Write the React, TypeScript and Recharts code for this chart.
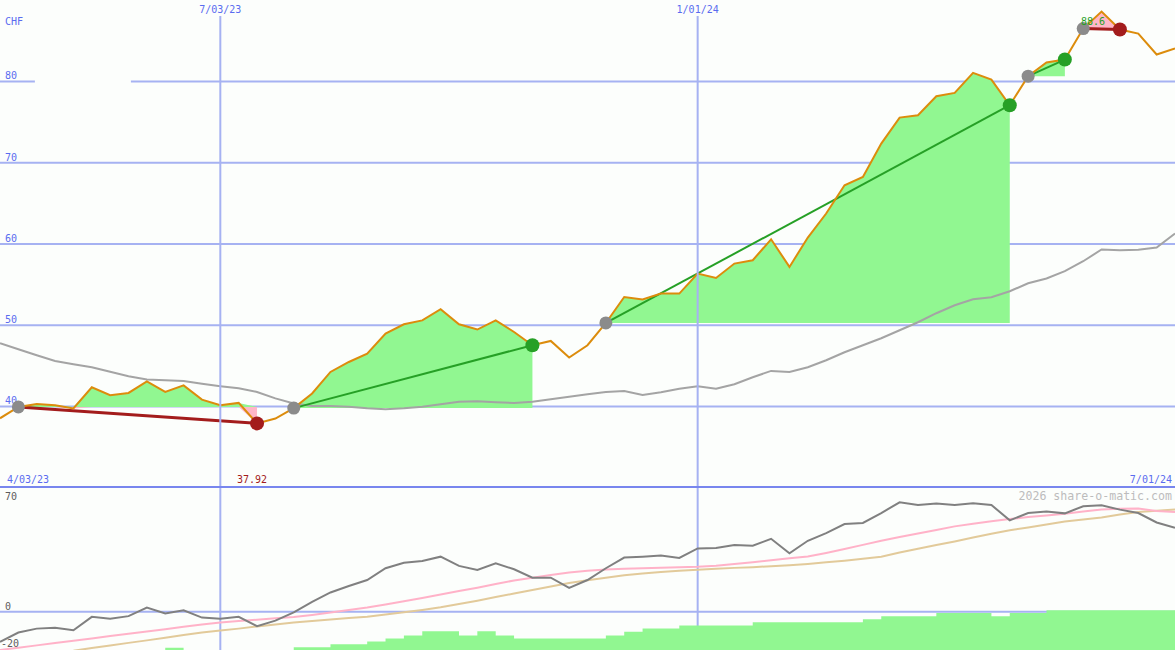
import React from 'react';
import {
  ComposedChart,
  Line,
  Area,
  XAxis,
  YAxis,
  ReferenceLine,
  ReferenceDot,
} from 'recharts';

// ---------- data (weekly, index 0 = 4/10/23 ... 64 = 7/01/24) ----------
const currency = 'CHF';
const rangeStartLabel = '4/03/23';
const rangeEndLabel = '7/01/24';
const watermark = '2026 share-o-matic.com';
const dateTicks = [
  { k: 12, label: '7/03/23' },
  { k: 38, label: '1/01/24' },
];
const priceTicks = [40, 50, 60, 70, 80];
const oscLabels = [70, 0, -20];

const price = [
  38.55, 39.95, 40.3, 40.15, 39.75, 42.37, 41.38, 41.67, 43.1, 41.8,
  42.6, 40.85, 40.15, 40.44, 37.92, 38.52, 39.8, 41.6, 44.25, 45.48,
  46.5, 48.97, 50.12, 50.6, 51.97, 50.12, 49.47, 50.6, 49.17, 47.54,
  48.07, 46.02, 47.54, 50.28, 53.48, 53.16, 53.9, 53.9, 56.36, 55.82,
  57.59, 58.0, 60.58, 57.18, 60.79, 63.75, 67.23, 68.25, 72.36, 75.56,
  75.85, 78.18, 78.6, 81.06, 80.24, 77.08, 80.65, 82.33, 82.7, 86.51,
  88.6, 86.4, 85.9, 83.32, 84.06,
];

const movingAvg = [
  47.78, 47.05, 46.3, 45.6, 45.2, 44.83, 44.28, 43.72, 43.32, 43.23,
  43.15, 42.8, 42.5, 42.25, 41.79, 41.0, 40.36, 40.07, 40.07, 39.97,
  39.78, 39.66, 39.78, 39.97, 40.28, 40.58, 40.65, 40.52, 40.44, 40.58,
  40.9, 41.2, 41.5, 41.79, 41.91, 41.42, 41.75, 42.18, 42.5, 42.18,
  42.74, 43.6, 44.38, 44.25, 44.83, 45.69, 46.68, 47.54, 48.4, 49.38,
  50.37, 51.48, 52.46, 53.2, 53.45, 54.18, 55.17, 55.75, 56.65, 57.88,
  59.32, 59.23, 59.29, 59.56, 61.28,
];

const trades = [
  { entry: 1, exit: 14, win: false, pinkFrom: null as number | null },
  { entry: 16, exit: 29, win: true, pinkFrom: null as number | null },
  { entry: 33, exit: 55, win: true, pinkFrom: null as number | null },
  { entry: 56, exit: 58, win: true, pinkFrom: null as number | null },
  { entry: 59, exit: 61, win: false, pinkFrom: 60 as number | null },
];

const oscillator = [
  -17.0, -11.7, -9.5, -9.0, -10.4, -2.9, -4.0, -2.5, 2.3, -1.0,
  0.8, -3.3, -4.0, -2.9, -8.1, -5.0, -0.4, 5.5, 10.8, 14.4,
  17.8, 24.4, 27.5, 28.5, 30.9, 25.7, 23.4, 27.2, 23.8, 19.1,
  19.1, 13.4, 17.8, 24.4, 30.4, 30.9, 31.5, 30.2, 35.5, 35.7,
  37.5, 37.0, 40.9, 32.8, 39.8, 44.1, 49.2, 49.8, 55.4, 61.4,
  59.9, 60.7, 59.9, 60.9, 59.9, 51.3, 55.4, 56.2, 55.2, 59.2,
  59.7, 57.3, 55.4, 50.1, 47.1,
];

const signalFast = [
  -21.5, -20.2, -18.9, -17.6, -16.3, -15.0, -13.7, -12.4, -11.1, -9.8,
  -8.5, -7.2, -6.0, -5.2, -4.5, -3.7, -3.0, -1.8, -0.4, 1.0,
  2.4, 4.1, 5.9, 7.7, 9.6, 11.6, 13.5, 15.6, 17.5, 19.1,
  20.6, 22.0, 23.0, 23.7, 24.1, 24.4, 24.7, 24.9, 25.2, 25.8,
  26.8, 27.8, 28.9, 30.0, 31.0, 33.0, 35.2, 37.5, 39.8, 41.9,
  43.9, 45.9, 47.9, 49.4, 50.8, 52.0, 53.1, 54.0, 55.0, 56.2,
  57.3, 57.8, 57.9, 56.5, 56.0,
];

const signalSlow = [
  null, null, null, null, -21.9, -20.4, -19.0, -17.5, -16.1, -14.6,
  -13.1, -11.7, -10.6, -9.5, -8.3, -7.2, -6.1, -5.2, -4.4, -3.6,
  -2.9, -1.6, -0.3, 1.0, 2.5, 4.3, 6.2, 8.2, 10.2, 12.2,
  14.2, 16.1, 17.7, 19.1, 20.4, 21.5, 22.3, 23.0, 23.6, 24.1,
  24.6, 25.0, 25.5, 26.1, 26.8, 27.7, 28.6, 29.7, 30.9, 33.2,
  35.3, 37.4, 39.4, 41.6, 43.8, 45.7, 47.3, 49.0, 50.6, 51.7,
  52.9, 54.5, 56.0, 56.7, 57.3,
];

const histogram = [
  -24, -24, -24, -24, -24, -24, -24, -24, -24, -20.2,
  -24, -24, -24, -24, -24, -24, -19.9, -19.9, -18.3, -18.3,
  -16.7, -15.0, -13.3, -11.0, -11.0, -13.3, -11.0, -13.3, -15.0, -15.0,
  -15.0, -15.0, -15.0, -13.3, -11.3, -9.5, -9.5, -7.8, -7.8, -7.8,
  -7.8, -5.9, -5.9, -5.9, -5.9, -5.9, -5.9, -4.2, -2.5, -2.5,
  -2.5, -0.8, -0.8, -0.8, -2.5, -0.8, -0.8, 0.8, 0.8, 0.8,
  0.8, 0.8, 0.8, 0.8, 0.8,
];

// ---------- layout / style ----------
const WIDTH = 1175;
const TOP_HEIGHT = 486;
const BOTTOM_HEIGHT = 164;
const FONT = '"DejaVu Sans Mono", monospace';
const BG = '#fcfefc';
const GRID = '#a6b2f2';
const DIVIDER = '#7886ee';
const LABEL_BLUE = '#5a6cf0';
const GREEN_FILL = '#91f791';
const PINK_FILL = '#ffb6c8';
const PX_PER_CHF = 8.125;
const PRICE_MAX = 90.03;
const PRICE_MIN = PRICE_MAX - TOP_HEIGHT / PX_PER_CHF;
const OSC_MAX = 70.56;
const OSC_MIN = -21.5;
const VLINE_TOP = PRICE_MAX - 16 / PX_PER_CHF;
const GRID_GAP = [1.9, 7.13];
const LAST = price.length - 1;
const GRID_Z = -100;

const rows = price.map((p, k) => {
  const r: any = {
    k,
    price: p,
    ma: movingAvg[k],
    osc: oscillator[k],
    fast: signalFast[k],
    slow: signalSlow[k],
    hist: histogram[k],
  };
  trades.forEach((t, i) => {
    const base = price[t.entry];
    if (k >= t.entry && k <= t.exit) {
      const pf = t.pinkFrom == null ? Infinity : t.pinkFrom;
      r[`g${i}`] = k <= pf ? [base, Math.max(p, base)] : null;
      r[`p${i}`] = k >= pf ? [Math.min(p, base), Math.max(p, base)] : [Math.min(p, base), base];
    } else {
      r[`g${i}`] = null;
      r[`p${i}`] = null;
    }
    r[`t${i}`] = k === t.entry || k === t.exit ? p : null;
  });
  return r;
});

let minK = 0;
let maxK = 0;
price.forEach((p, k) => {
  if (p < price[minK]) minK = k;
  if (p > price[maxK]) maxK = k;
});

const tradeDot = (t: (typeof trades)[number]) => (props: any) => {
  const { cx, cy, index, value } = props;
  if (cx == null || cy == null || value == null) return <g key={`d${index}`} />;
  const isEntry = index === t.entry;
  const fill = isEntry ? '#8b8b8b' : t.win ? '#26a026' : '#a31c1c';
  return <circle key={`d${index}`} cx={cx} cy={cy} r={isEntry ? 6.5 : 7} fill={fill} stroke="none" />;
};

const M = { top: 0, right: 0, bottom: 0, left: 0 };

const gridSegments = (v: number) =>
  v === 80
    ? [
        [0, GRID_GAP[0]],
        [GRID_GAP[1], LAST],
      ]
    : [[0, LAST]];

export default function App() {
  return (
    <div
      style={{
        position: 'absolute',
        left: 0,
        top: 0,
        width: WIDTH,
        height: TOP_HEIGHT + BOTTOM_HEIGHT,
        background: BG,
        overflow: 'hidden',
      }}
    >
      <div style={{ position: 'absolute', left: 0, top: 0 }}>
        <ComposedChart width={WIDTH} height={TOP_HEIGHT} data={rows} margin={M}>
          <XAxis dataKey="k" type="number" domain={[0, LAST]} hide allowDataOverflow />
          <YAxis type="number" domain={[PRICE_MIN, PRICE_MAX]} hide allowDataOverflow />
          {priceTicks.map((v) =>
            gridSegments(v).map(([a, b], j) => (
              <ReferenceLine
                key={`g${v}-${j}`}
                segment={[
                  { x: a, y: v },
                  { x: b, y: v },
                ]}
                stroke={GRID}
                strokeWidth={2}
                ifOverflow="visible"
                zIndex={GRID_Z}
                label={
                  j === 0
                    ? (p: any) => (
                        <text x={p.viewBox.x + 5} y={p.viewBox.y - 2} fill={LABEL_BLUE} fontSize={10} fontFamily={FONT}>
                          {v}
                        </text>
                      )
                    : undefined
                }
              />
            )),
          )}
          {trades.map((t, i) => (
            <Area
              key={`g${i}`}
              dataKey={`g${i}`}
              type="linear"
              stroke="none"
              fill={GREEN_FILL}
              fillOpacity={1}
              isAnimationActive={false}
              activeDot={false}
            />
          ))}
          {trades.map((t, i) => (
            <Area
              key={`p${i}`}
              dataKey={`p${i}`}
              type="linear"
              stroke="none"
              fill={PINK_FILL}
              fillOpacity={1}
              isAnimationActive={false}
              activeDot={false}
            />
          ))}
          <Line
            dataKey="ma"
            type="linear"
            stroke="#a4a4a4"
            strokeWidth={2}
            dot={false}
            activeDot={false}
            isAnimationActive={false}
          />
          {trades.map((t, i) => (
            <Line
              key={`t${i}`}
              dataKey={`t${i}`}
              type="linear"
              connectNulls
              stroke={t.win ? '#26a026' : '#a31c1c'}
              strokeWidth={t.win ? 2 : 3}
              dot={tradeDot(t)}
              activeDot={false}
              isAnimationActive={false}
            />
          ))}
          <Line
            dataKey="price"
            type="linear"
            stroke="#dc8c0c"
            strokeWidth={2}
            dot={false}
            activeDot={false}
            isAnimationActive={false}
          />
          {dateTicks.map((d) => (
            <ReferenceLine
              key={`v${d.k}`}
              segment={[
                { x: d.k, y: VLINE_TOP },
                { x: d.k, y: PRICE_MIN },
              ]}
              stroke={GRID}
              strokeWidth={2}
              ifOverflow="visible"
              label={(p: any) => (
                <text
                  x={p.viewBox.x}
                  y={p.viewBox.y - 3}
                  textAnchor="middle"
                  fill={LABEL_BLUE}
                  fontSize={10}
                  fontFamily={FONT}
                >
                  {d.label}
                </text>
              )}
            />
          ))}
          <ReferenceDot
            x={minK}
            y={price[minK]}
            r={0}
            ifOverflow="visible"
            shape={(p: any) => (
              <text x={p.cx - 5} y={TOP_HEIGHT - 3} textAnchor="middle" fill="#a31c1c" fontSize={10} fontFamily={FONT}>
                {price[minK].toFixed(2)}
              </text>
            )}
          />
          <ReferenceDot
            x={maxK}
            y={price[maxK]}
            r={0}
            ifOverflow="visible"
            shape={(p: any) => (
              <text x={p.cx - 20.5} y={p.cy + 13.4} fill="#26a026" fontSize={10} fontFamily={FONT}>
                {price[maxK].toFixed(1)}
              </text>
            )}
          />
        </ComposedChart>
      </div>

      <div style={{ position: 'absolute', left: 0, top: TOP_HEIGHT }}>
        <ComposedChart width={WIDTH} height={BOTTOM_HEIGHT} data={rows} margin={M}>
          <XAxis dataKey="k" type="number" domain={[0, LAST]} hide allowDataOverflow />
          <YAxis type="number" domain={[OSC_MIN, OSC_MAX]} hide allowDataOverflow />
          <ReferenceLine y={0} stroke={GRID} strokeWidth={2} zIndex={GRID_Z} />
          {dateTicks.map((d) => (
            <ReferenceLine key={`bv${d.k}`} x={d.k} stroke={GRID} strokeWidth={2} zIndex={GRID_Z} />
          ))}
          <Area
            dataKey="hist"
            type="stepAfter"
            stroke="none"
            fill={GREEN_FILL}
            fillOpacity={1}
            baseValue="dataMin"
            isAnimationActive={false}
            activeDot={false}
          />
          <ReferenceLine y={70} stroke={DIVIDER} strokeWidth={2} />
          <Line dataKey="slow" type="linear" stroke="#e2ca9a" strokeWidth={2} dot={false} activeDot={false} isAnimationActive={false} />
          <Line dataKey="fast" type="linear" stroke="#ffb2c8" strokeWidth={2} dot={false} activeDot={false} isAnimationActive={false} />
          <Line dataKey="osc" type="linear" stroke="#808080" strokeWidth={2} dot={false} activeDot={false} isAnimationActive={false} />
          {oscLabels.map((v) => (
            <ReferenceLine
              key={`ol${v}`}
              y={v}
              stroke="none"
              ifOverflow="visible"
              label={(p: any) => (
                <text
                  x={p.viewBox.x + (v < 0 ? 1 : 5)}
                  y={p.viewBox.y + (v === 70 ? 13 : v < 0 ? -0.5 : -2)}
                  fill="#5c5c5c"
                  fontSize={10}
                  fontFamily={FONT}
                >
                  {v}
                </text>
              )}
            />
          ))}
        </ComposedChart>
      </div>

      <svg
        width={WIDTH}
        height={TOP_HEIGHT + BOTTOM_HEIGHT}
        style={{ position: 'absolute', left: 0, top: 0, pointerEvents: 'none' }}
      >
        <text x={5} y={25} fill={LABEL_BLUE} fontSize={10} fontFamily={FONT}>
          {currency}
        </text>
        <text x={7} y={483} fill={LABEL_BLUE} fontSize={10} fontFamily={FONT}>
          {rangeStartLabel}
        </text>
        <text x={1172} y={483} textAnchor="end" fill={LABEL_BLUE} fontSize={10} fontFamily={FONT}>
          {rangeEndLabel}
        </text>
        <text x={1172} y={500} textAnchor="end" fill="#bcbcbc" fontSize={11.6} fontFamily={FONT}>
          {watermark}
        </text>
      </svg>
    </div>
  );
}
